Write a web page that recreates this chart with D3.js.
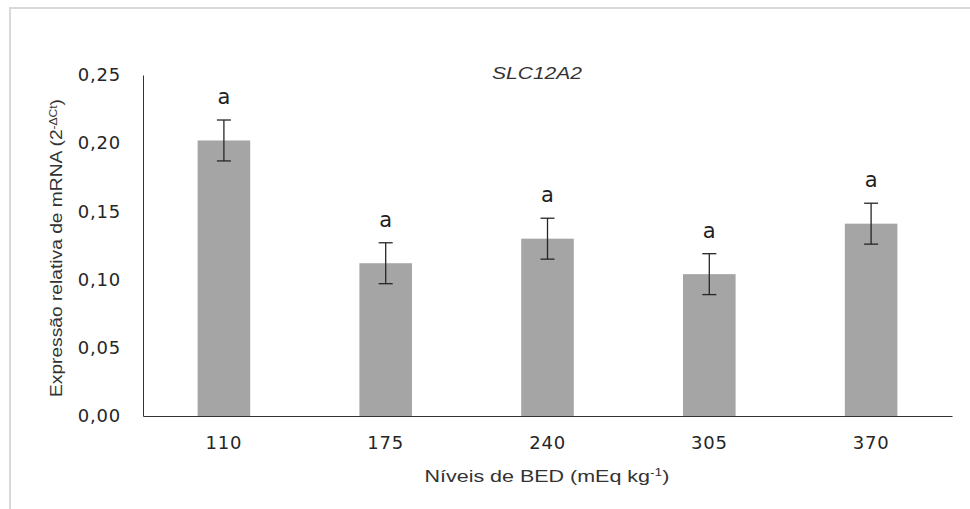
<!DOCTYPE html>
<html lang="pt">
<head>
<meta charset="UTF-8">
<title>SLC12A2</title>
<script src="https://d3js.org/d3.v7.min.js"></script>
<style>
    body { margin: 0; background: white; }
    #chart { display: block; }
</style>
</head>
<body>
<svg id="chart" width="970" height="509"></svg>
<script>
    // valores
    const levels = ['110', '175', '240', '305', '370'];
    const means = [0.202, 0.112, 0.130, 0.104, 0.141];
    const errors = [0.015, 0.015, 0.015, 0.015, 0.015];
    const letters = ['a', 'a', 'a', 'a', 'a'];
    const yTicks = [0, 0.05, 0.10, 0.15, 0.20, 0.25];

    const svg = d3.select('#chart');
    const plotLeft = 143, plotRight = 952, plotTop = 75, plotBottom = 416;

    // moldura cinza clara
    svg.append('rect')
        .attr('x', 10).attr('y', 8)
        .attr('width', 1000).attr('height', 600)
        .attr('fill', 'white')
        .attr('stroke', '#d9d9d9')
        .attr('stroke-width', 2);

    const x = d3.scaleBand()
        .domain(levels)
        .range([plotLeft, plotRight])
        .paddingInner(0.675)
        .paddingOuter(0.3375);

    const y = d3.scaleLinear()
        .domain([0, 0.25])
        .range([plotBottom, plotTop]);

    const fmt = v => d3.format('.2f')(v).replace('.', ',');

    // barras
    svg.selectAll('rect.bar')
        .data(levels)
        .enter()
        .append('rect')
        .attr('class', 'bar')
        .attr('x', d => x(d))
        .attr('y', (d, i) => y(means[i]))
        .attr('width', x.bandwidth())
        .attr('height', (d, i) => y(0) - y(means[i]))
        .attr('fill', '#a5a5a5');

    // barras de erro
    const err = svg.append('g')
        .attr('stroke', '#262626')
        .attr('stroke-width', 1.3);
    levels.forEach((d, i) => {
        const cx = x(d) + x.bandwidth() / 2;
        const y1 = y(means[i] + errors[i]);
        const y2 = y(means[i] - errors[i]);
        err.append('line').attr('x1', cx).attr('x2', cx).attr('y1', y1).attr('y2', y2);
        err.append('line').attr('x1', cx - 7).attr('x2', cx + 7).attr('y1', y1).attr('y2', y1);
        err.append('line').attr('x1', cx - 7).attr('x2', cx + 7).attr('y1', y2).attr('y2', y2);
    });

    // letras de significância
    svg.selectAll('text.sig')
        .data(levels)
        .enter()
        .append('text')
        .attr('class', 'sig')
        .attr('x', d => x(d) + x.bandwidth() / 2)
        .attr('y', (d, i) => y(means[i] + errors[i]) - 16)
        .attr('text-anchor', 'middle')
        .attr('font-family', 'DejaVu Sans')
        .attr('font-size', 21)
        .attr('fill', '#1f1f1f')
        .text((d, i) => letters[i]);

    // eixos
    const yAxis = svg.append('g')
        .attr('transform', `translate(${plotLeft},0)`)
        .call(d3.axisLeft(y).tickValues(yTicks).tickFormat(fmt).tickSize(0).tickPadding(22));
    yAxis.select('.domain').attr('stroke', '#333');
    yAxis.selectAll('text')
        .attr('font-family', 'DejaVu Sans')
        .attr('font-size', 18)
        .attr('letter-spacing', 0.8)
        .attr('fill', '#262626');

    const xAxis = svg.append('g')
        .attr('transform', `translate(0,${plotBottom})`)
        .call(d3.axisBottom(x).tickSize(0).tickPadding(20));
    xAxis.select('.domain').attr('stroke', '#333');
    xAxis.selectAll('text')
        .attr('font-family', 'DejaVu Sans')
        .attr('font-size', 18)
        .attr('letter-spacing', 0.8)
        .attr('fill', '#262626');

    // título
    svg.append('text')
        .attr('x', 537)
        .attr('y', 79)
        .attr('text-anchor', 'middle')
        .attr('font-family', 'Liberation Sans')
        .attr('font-style', 'italic')
        .attr('font-size', 17)
        .attr('textLength', 90)
        .attr('lengthAdjust', 'spacingAndGlyphs')
        .attr('fill', '#333')
        .text('SLC12A2');

    // título do eixo x
    const xt = svg.append('text')
        .attr('x', 547)
        .attr('y', 482)
        .attr('text-anchor', 'middle')
        .attr('font-family', 'Liberation Sans')
        .attr('font-size', 17)
        .attr('textLength', 245)
        .attr('lengthAdjust', 'spacingAndGlyphs')
        .attr('fill', '#333');
    xt.append('tspan').text('Níveis de BED (mEq kg');
    xt.append('tspan').attr('baseline-shift', 'super').attr('font-size', 11).text('-1');
    xt.append('tspan').text(')');

    // título do eixo y
    const yt = svg.append('text')
        .attr('transform', 'translate(62,248) rotate(-90)')
        .attr('text-anchor', 'middle')
        .attr('font-family', 'Liberation Sans')
        .attr('font-size', 16)
        .attr('textLength', 298)
        .attr('lengthAdjust', 'spacingAndGlyphs')
        .attr('fill', '#333');
    yt.append('tspan').text('Expressão relativa de mRNA (2');
    yt.append('tspan').attr('baseline-shift', 'super').attr('font-size', 10).text('-ΔCt');
    yt.append('tspan').text(')');
</script>
</body>
</html>
